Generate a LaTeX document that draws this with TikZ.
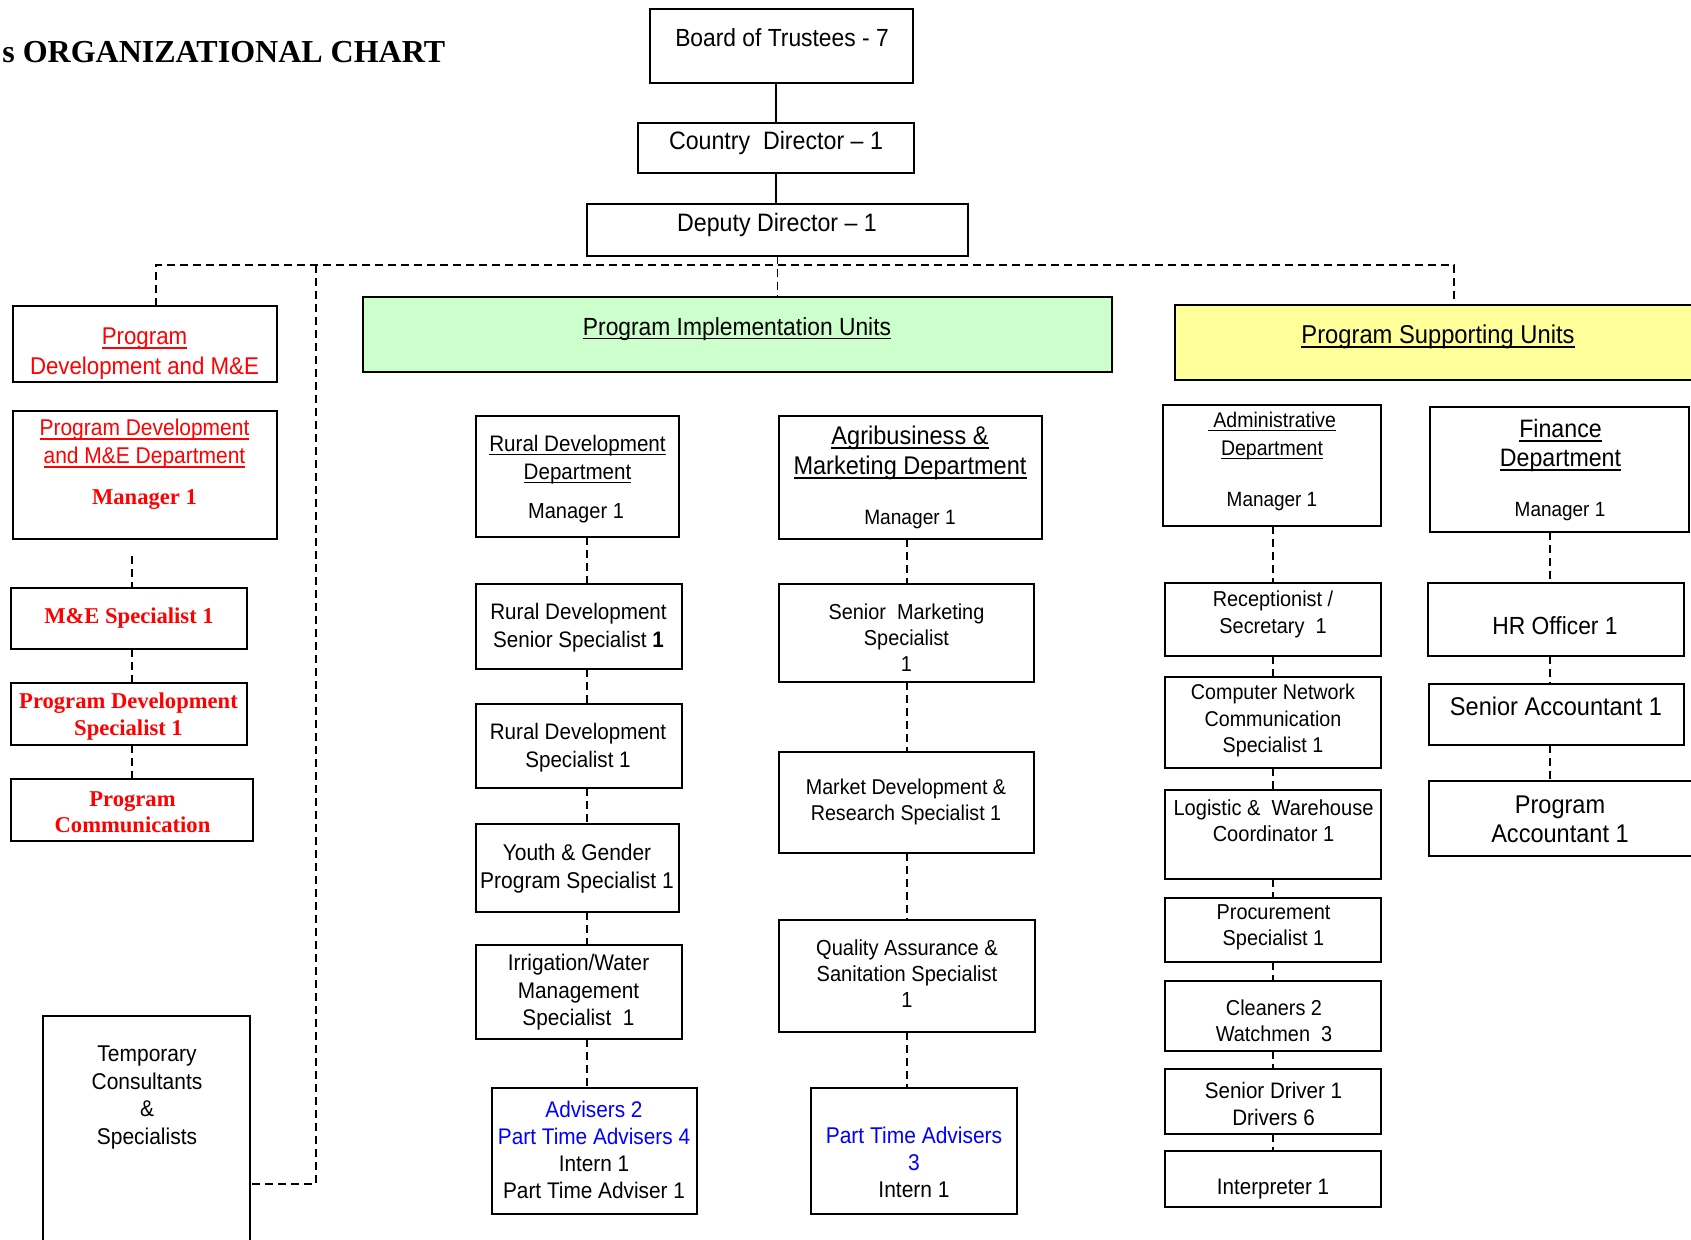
\documentclass[tikz,border=0pt]{standalone}
\usepackage{fontspec}
\setmainfont{Liberation Sans}[FakeStretch=0.92]
\newfontfamily\tnr{Liberation Serif}
\newsavebox\ulbox
\newcommand\ul[1]{\sbox\ulbox{#1}\rlap{\rule[-0.18em]{\wd\ulbox}{0.075em}}\usebox\ulbox}
\newcommand\setfs[2]{\fontsize{#1}{#2}\selectfont}
\definecolor{piugreen}{RGB}{204,255,204}
\definecolor{psuyellow}{RGB}{255,255,153}
\definecolor{myred}{RGB}{255,0,0}
\definecolor{myblue}{RGB}{0,0,255}
\tikzset{
  box/.style={draw=black, line width=1.3pt, anchor=north west, inner sep=0pt, outer sep=0pt},
  txt/.style={align=center, inner sep=0pt, yshift=-1.3pt},
  rtxt/.style={align=center, inner sep=0pt, yshift=-1.3pt, text=myred, font=\tnr\bfseries\setfs{11.3}{13.5}},
  dsh/.style={draw=black, line width=0.9pt, dash pattern=on 4pt off 2.5pt},
  sol/.style={draw=black, line width=0.8pt},
}
\newcommand\obox[6][]{\node[box,#1,minimum width={(#5-#3)*0.5pt},minimum height={(#6-#4)*0.5pt}] (#2) at (#3,#4) {};}
\newcommand\vcon[3]{\draw[dsh] (#1 |- #2.south) -- (#1 |- #3.north);}
\begin{document}
\begin{tikzpicture}[x=0.5pt,y=-0.5pt]
\useasboundingbox (0,0) rectangle (1691,1240);
\fill[white] (0,0) rectangle (1691,1240);

% title
\node[anchor=base west, inner sep=0pt, font=\tnr\bfseries\setfs{16}{19}] (title) at (2,63) {s ORGANIZATIONAL CHART};

% top boxes
\obox{bt}{650}{9}{913}{83}
\obox{cd}{638}{123}{914}{173}
\obox{dd}{587}{204}{968}{256}
\node[txt, font=\setfs{12.4}{14}] (bt-t) at (782,35) {Board of Trustees - 7};
\node[txt, font=\setfs{12.6}{14}] (cd-t) at (776,140) {Country~~Director -- 1};
\node[txt, font=\setfs{12.6}{14}] (dd-t) at (777,222) {Deputy Director -- 1};

% unit headers
\obox{pdme}{13}{306}{277}{382}
\obox[fill=piugreen]{piu}{363}{297}{1112}{372}
\obox[fill=psuyellow]{psu}{1175}{305}{1700}{380}
\node[txt, text=myred, font=\setfs{12.1}{15}] (pdme-t) at (144.5,351) {\ul{Program}\\Development and M\&E};
\node[txt, font=\setfs{12.4}{14}] (piu-t) at (737,326) {\ul{Program Implementation Units}};
\node[txt, font=\setfs{12.9}{15}] (psu-t) at (1438,334) {\ul{Program Supporting Units}};

% left column
\obox{pdmed}{13}{411}{277}{539}
\node[txt, text=myred, font=\setfs{11.4}{14}] (pdmed-t) at (144.5,441) {\ul{Program Development}\\\ul{and M\&E Department}};
\node[rtxt] (pdmed-m) at (144.5,497) {Manager 1};
\obox{mes}{11}{588}{247}{649}
\node[rtxt] (mes-t) at (129,615) {M\&E Specialist 1};
\obox{pds}{11}{683}{247}{745}
\node[rtxt] (pds-t) at (128.5,714) {Program Development\\Specialist 1};
\obox{pcom}{11}{779}{253}{841}
\node[rtxt, font=\tnr\bfseries\setfs{11.3}{13}] (pcom-t) at (132.5,810) {Program\\Communication};
\obox{tmp}{43}{1016}{250}{1252}
\node[txt, font=\setfs{11.4}{13.85}] (tmp-t) at (147,1095) {Temporary\\Consultants\\\&\\Specialists};

% rural development column
\obox{rdd}{476}{416}{679}{537}
\node[txt, font=\setfs{11.2}{14}] (rdd-t) at (577.5,457) {\ul{Rural Development}\\\ul{Department}};
\node[txt, font=\setfs{10.9}{13}] (rdd-m) at (576,511) {Manager 1};
\obox{rdss}{476}{584}{682}{669}
\node[txt, font=\setfs{11.2}{14}] (rdss-t) at (578.5,625) {Rural Development\\Senior Specialist \textbf{1}};
\obox{rds}{476}{704}{682}{788}
\node[txt, font=\setfs{11.2}{14}] (rds-t) at (578,745) {Rural Development\\Specialist 1};
\obox{yg}{476}{824}{679}{912}
\node[txt, font=\setfs{11.4}{14}] (yg-t) at (577,866) {Youth \& Gender\\Program Specialist 1};
\obox{irr}{476}{945}{682}{1039}
\node[txt, font=\setfs{11.3}{13.75}] (irr-t) at (578.5,990) {Irrigation/Water\\Management\\Specialist~~1};
\obox{adv}{492}{1088}{697}{1214}
\node[txt, font=\setfs{11.3}{13.5}] (adv-t) at (594,1147) {\textcolor{myblue}{Advisers 2}\\\textcolor{myblue}{Part Time Advisers 4}\\Intern 1\\Part Time Adviser 1};

% agribusiness column
\obox{agd}{779}{416}{1042}{539}
\node[txt, font=\setfs{12.8}{15}] (agd-t) at (910,450) {\ul{Agribusiness \&}\\\ul{Marketing Department}};
\node[txt, font=\setfs{10.4}{13}] (agd-m) at (910,517) {Manager 1};
\obox{sms}{779}{584}{1034}{682}
\node[txt, font=\setfs{10.8}{13.2}] (sms-t) at (906.5,635) {Senior~~Marketing\\Specialist\\1};
\obox{mdr}{779}{752}{1034}{853}
\node[txt, font=\setfs{10.7}{13}] (mdr-t) at (906,799) {Market Development \&\\Research Specialist 1};
\obox{qas}{779}{920}{1035}{1032}
\node[txt, font=\setfs{10.9}{13}] (qas-t) at (907,971) {Quality Assurance \&\\Sanitation Specialist\\1};
\obox{pta}{811}{1088}{1017}{1214}
\node[txt, font=\setfs{11.4}{13.5}] (pta-t) at (914,1160) {\textcolor{myblue}{Part Time Advisers}\\\textcolor{myblue}{3}\\Intern 1};

% administrative column
\obox{ad}{1163}{405}{1381}{526}
\node[txt, font=\setfs{10.6}{14}] (ad-t) at (1272,433.5) {\ul{\ Administrative}\\\ul{Department}};
\node[txt, font=\setfs{10.3}{13}] (ad-m) at (1272,499) {Manager 1};
\obox{rec}{1165}{583}{1381}{656}
\node[txt, font=\setfs{10.8}{13.5}] (rec-t) at (1273,612) {Receptionist /\\Secretary~~1};
\obox{cnc}{1165}{677}{1381}{768}
\node[txt, font=\setfs{10.7}{13.2}] (cnc-t) at (1273,718) {Computer Network\\Communication\\Specialist 1};
\obox{lwc}{1165}{790}{1381}{879}
\node[txt, font=\setfs{10.9}{13}] (lwc-t) at (1273.5,818) {Logistic \&~~Warehouse\\Coordinator 1};
\obox{proc}{1165}{898}{1381}{962}
\node[txt, font=\setfs{10.8}{13}] (proc-t) at (1273.5,925) {Procurement\\Specialist 1};
\obox{cln}{1165}{981}{1381}{1051}
\node[txt, font=\setfs{10.8}{13}] (cln-t) at (1274,1018) {Cleaners 2\\Watchmen~~3};
\obox{drv}{1165}{1069}{1381}{1134}
\node[txt, font=\setfs{11.2}{13.5}] (drv-t) at (1273.5,1101) {Senior Driver 1\\Drivers 6};
\obox{int}{1165}{1151}{1381}{1207}
\node[txt, font=\setfs{11.2}{13.5}] (int-t) at (1273,1187) {Interpreter 1};

% finance column
\obox{fd}{1430}{407}{1689}{532}
\node[txt, font=\setfs{12.6}{14.5}] (fd-t) at (1560.5,442.5) {\ul{Finance}\\\ul{Department}};
\node[txt, font=\setfs{10.3}{13}] (fd-m) at (1560,509) {Manager 1};
\obox{hr}{1428}{583}{1684}{656}
\node[txt, font=\setfs{12.4}{14}] (hr-t) at (1555,623) {HR Officer 1};
\obox{sa}{1429}{684}{1684}{745}
\node[txt, font=\setfs{12.8}{14}] (sa-t) at (1556,704) {Senior Accountant 1};
\obox{pa}{1429}{781}{1694}{856}
\node[txt, font=\setfs{12.8}{14.5}] (pa-t) at (1560,816.5) {Program\\Accountant 1};

% connectors
\draw[sol] (cd.north) -- (cd.north |- bt.south);
\draw[sol] (cd.south) -- (cd.south |- dd.north);
\coordinate (jL) at (156,265);
\coordinate (jR) at (1454,265);
\coordinate (jT) at (316,1184);
\draw[dsh] (jL |- pdme.north) -- (jL) -- (jR) -- (jR |- psu.north);
\draw[dsh] (dd.south) -- (dd.south |- piu.north);
\draw[dsh] (jT |- jL) -- (jT) -- (jT -| tmp.east);

\coordinate (c1) at (132,0);
\coordinate (c2) at (587,0);
\coordinate (c3) at (907,0);
\coordinate (c4) at (1273,0);
\coordinate (c5) at (1550,0);
\draw[dsh, shorten <=8.5pt] (c1 |- pdmed.south) -- (c1 |- mes.north);
\vcon{c1}{mes}{pds}
\vcon{c1}{pds}{pcom}
\vcon{c2}{rdd}{rdss}
\vcon{c2}{rdss}{rds}
\vcon{c2}{rds}{yg}
\vcon{c2}{yg}{irr}
\vcon{c2}{irr}{adv}
\vcon{c3}{agd}{sms}
\vcon{c3}{sms}{mdr}
\vcon{c3}{mdr}{qas}
\vcon{c3}{qas}{pta}
\vcon{c4}{ad}{rec}
\vcon{c4}{rec}{cnc}
\vcon{c4}{cnc}{lwc}
\vcon{c4}{lwc}{proc}
\vcon{c4}{proc}{cln}
\vcon{c4}{cln}{drv}
\vcon{c4}{drv}{int}
\vcon{c5}{fd}{hr}
\vcon{c5}{hr}{sa}
\vcon{c5}{sa}{pa}
\end{tikzpicture}
\end{document}
